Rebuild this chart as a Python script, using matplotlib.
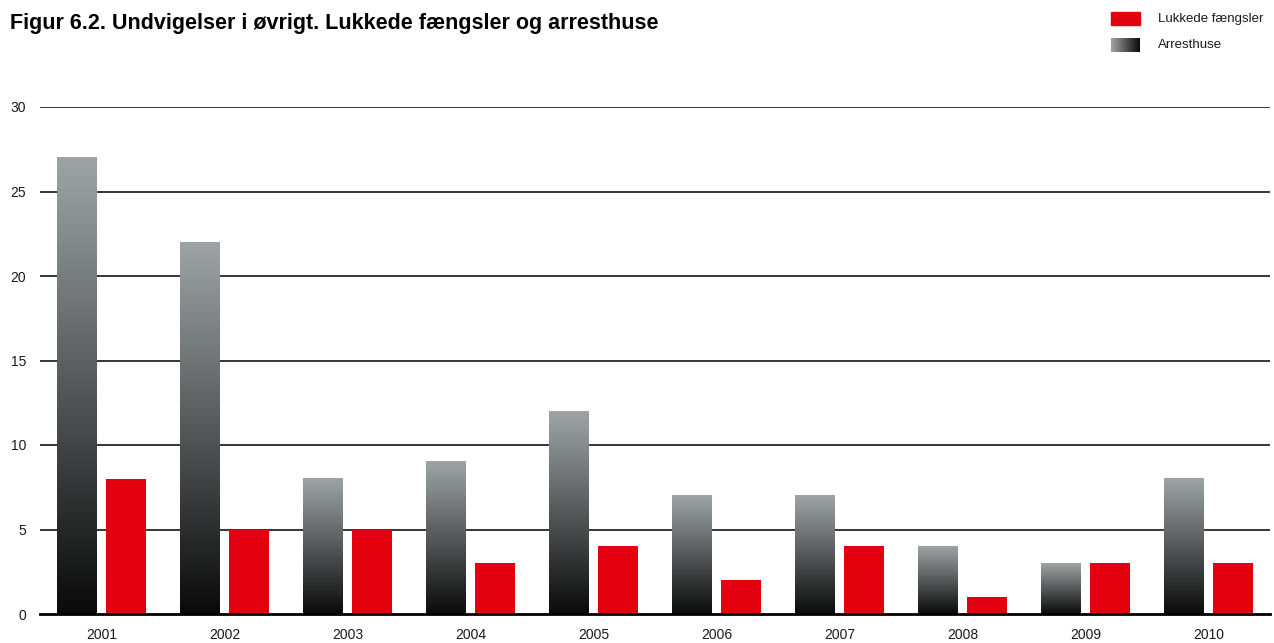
import matplotlib
matplotlib.use("Agg")
import matplotlib.pyplot as plt
import numpy as np
from matplotlib.colors import LinearSegmentedColormap
from matplotlib.patches import Rectangle
from matplotlib import font_manager

years = ["2001", "2002", "2003", "2004", "2005", "2006", "2007", "2008", "2009", "2010"]
arresthuse = [27, 22, 8, 9, 12, 7, 7, 4, 3, 8]
lukkede = [8, 5, 5, 3, 4, 2, 4, 1, 3, 3]
yticks = [0, 5, 10, 15, 20, 25, 30]

names = {f.name for f in font_manager.fontManager.ttflist}
fam = ["Liberation Sans Narrow", "DejaVu Sans"] if "Liberation Sans Narrow" in names else ["Liberation Sans", "DejaVu Sans"]
plt.rcParams["font.family"] = fam

RED = "#e3000f"
grad = LinearSegmentedColormap.from_list("g", ["#0a0a0a", "#56595a", "#9ea4a6"])

fig = plt.figure(figsize=(12.74, 6.43), dpi=100)
ax = fig.add_axes([40/1274, 29/643, 1230/1274, 507/643])

x = np.arange(len(years))
w = 0.325
off = 0.2
gbars = ax.bar(x - off, arresthuse, w, color="none", zorder=3)
ax.bar(x + off, lukkede, w, color=RED, zorder=3)
gimg = np.linspace(0, 1, 256).reshape(-1, 1)
for b in gbars:
    x0, y0 = b.get_x(), b.get_y()
    ax.imshow(gimg, cmap=grad, origin="lower", aspect="auto",
              extent=(x0, x0 + b.get_width(), y0, y0 + b.get_height()), zorder=3)

ax.set_xlim(-0.5, 9.5)
ax.set_ylim(0, 30)
ax.set_yticks(yticks)
ax.set_xticks(x)
ax.set_xticklabels(years)
for y in yticks[1:]:
    ax.axhline(y, color="black", lw=1.1, zorder=1)
for s in ["top", "right", "left"]:
    ax.spines[s].set_visible(False)
ax.spines["bottom"].set_linewidth(2)
ax.spines["bottom"].set_zorder(4)
ax.tick_params(axis="both", length=0, labelsize=10, colors="#1a1a1a")
ax.tick_params(axis="y", pad=10)
ax.tick_params(axis="x", pad=10)

fig.text(10/1274, 1 - 23/643, "Figur 6.2. Undvigelser i øvrigt. Lukkede fængsler og arresthuse",
         fontsize=15.5, fontweight="bold", va="center", ha="left")

# legend
fig.patches.append(Rectangle((1111/1274, 1 - 25/643), 29/1274, 13/643,
                             transform=fig.transFigure, color=RED))
lax = fig.add_axes([1111/1274, 1 - 52/643, 29/1274, 14/643])
lax.imshow(np.linspace(0.15, 1, 64).reshape(1, -1)[:, ::-1], cmap=grad, aspect="auto")
lax.axis("off")
fig.text(1158/1274, 1 - 19/643, "Lukkede fængsler", fontsize=9.5, va="center", color="#1a1a1a")
fig.text(1158/1274, 1 - 45/643, "Arresthuse", fontsize=9.5, va="center", color="#1a1a1a")

fig.savefig("out.png", dpi=100)
